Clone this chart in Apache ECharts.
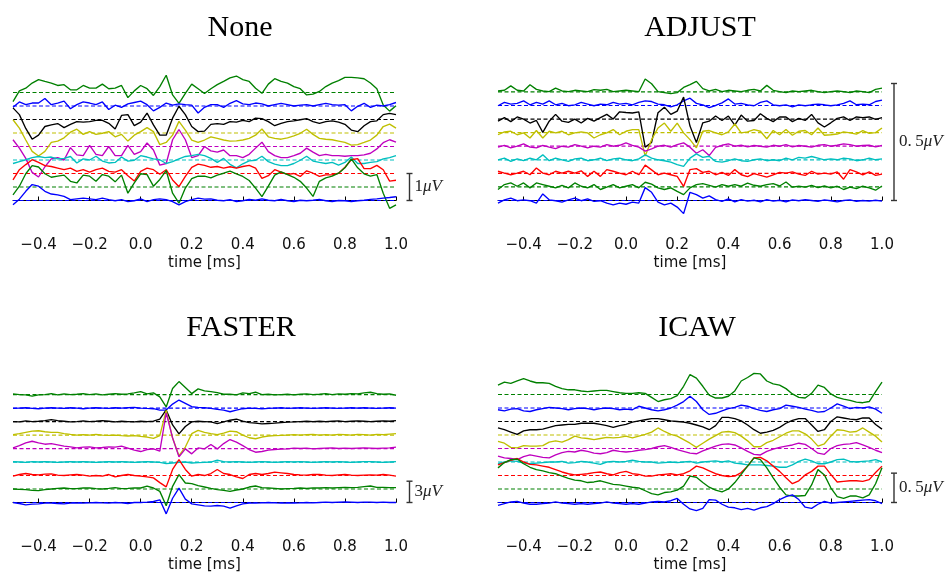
<!DOCTYPE html>
<html><head><meta charset="utf-8">
<script src="https://cdn.jsdelivr.net/npm/echarts@6/dist/echarts.min.js"></script>
<style>html,body{margin:0;padding:0;background:#fff}#c{width:945px;height:575px}</style>
</head><body><div id="c"></div>
<script>
// sample times (ms)
const time = [-0.5,-0.475,-0.45,-0.425,-0.4,-0.375,-0.35,-0.325,-0.3,-0.275,-0.25,-0.225,-0.2,-0.175,-0.15,-0.125,-0.1,-0.075,-0.05,-0.025,0,0.025,0.05,0.075,0.1,0.125,0.15,0.175,0.2,0.225,0.25,0.275,0.3,0.325,0.35,0.375,0.4,0.425,0.45,0.475,0.5,0.525,0.55,0.575,0.6,0.625,0.65,0.675,0.7,0.725,0.75,0.775,0.8,0.825,0.85,0.875,0.9,0.925,0.95,0.975,1.0];
const tickValues = [-0.4,-0.2,0,0.2,0.4,0.6,0.8,1.0];
const channelColors = ['#008000','#0000ff','#000000','#bfbf00','#bf00bf','#00bfbf','#ff0000','#008000','#0000ff'];
const titles = ['None','ADJUST','FASTER','ICAW'];
const spacings = [0.5, 0.058, 1.9, 0.23];      // µV between channel baselines
const barValues = [1, 0.5, 3, 0.5];             // µV scale bars
const barLabels = ['1', '0.\u20095', '3', '0.\u20095'];

// ---- None (µV deviation from channel baseline)
const none1 = [-0.34,0.06,0.16,0.35,0.48,0.41,0.35,0.26,0.29,0.1,0.1,0.26,0.16,0.16,0.31,0.14,0.16,0.26,-0.19,0.06,0.26,0.14,-0.11,0.22,0.64,-0.09,-0.4,-0.03,0.31,0.14,-0.04,0.14,0.29,0.41,0.54,0.61,0.48,0.41,0.16,-0.03,0.31,0.51,0.41,0.35,0.22,0.14,-0.09,-0.06,0.04,0.22,0.35,0.44,0.56,0.56,0.54,0.51,0.35,0.14,-0.46,-0.69,-0.49];
const none2 = [-0.05,0.15,0.05,0.11,0.11,0.28,0.05,0.11,0.18,-0.1,0.05,0.15,0.11,0.05,0.15,-0.13,0.03,-0.05,0.08,0.13,0.18,0.05,-0.18,-0.05,0.11,0.03,0.08,0.05,0.03,-0.26,-0.05,0.05,0.05,-0.05,0.1,0.2,0.08,0.05,0.11,0.08,0,0.05,0.1,0.05,0,0.03,0.05,0,0.05,0.1,0.05,0.03,0.05,-0.18,-0.01,0.1,-0.05,0.03,0,0.05,0.13];
const none3 = [0.43,0.18,-0.33,-0.73,-0.58,-0.26,-0.2,-0.15,-0.3,-0.18,-0.08,-0.1,-0.08,-0.03,-0.03,-0.14,-0.35,0.15,0.18,-0.23,-0.1,0.24,-0.2,-0.58,-0.58,0.05,0.49,0.18,-0.26,-0.45,-0.43,-0.18,-0.15,-0.18,-0.08,-0.1,-0.03,-0.08,0.05,0.03,-0.08,-0.23,-0.14,-0.08,-0.05,-0.01,0.03,-0.08,-0.14,-0.08,-0.05,-0.1,-0.18,-0.39,-0.45,-0.23,-0.08,-0.05,0.18,0.23,0.18];
const none4 = [0.49,0.18,-0.26,-0.68,-0.85,-0.68,-0.35,-0.3,-0.18,0.03,0.14,-0.05,0.05,-0.05,-0.01,0.05,-0.14,-0.05,-0.3,-0.08,0.05,0.2,0.05,-0.43,-0.35,-0.08,0.43,0.11,-0.26,-0.35,-0.26,-0.14,-0.2,-0.26,-0.3,-0.29,-0.26,-0.2,-0.08,0.15,-0.14,-0.2,-0.23,-0.18,-0.11,-0.01,0.14,-0.05,-0.2,-0.23,-0.25,-0.3,-0.35,-0.45,-0.43,-0.35,-0.26,-0.08,0.24,0.33,0.18];
const none5 = [0.25,-0.06,-0.44,-0.96,-1.13,-0.75,-0.46,-0.41,-0.5,-0.04,-0.31,-0.34,0.04,-0.29,-0.34,0,-0.34,-0.34,0.04,-0.29,-0.19,0.13,-0.13,-0.69,-0.63,0.25,0.63,0.25,-0.41,-0.34,0,-0.16,-0.21,-0.13,-0.34,-0.34,-0.41,-0.29,-0.06,0.16,-0.19,-0.34,-0.41,-0.41,-0.34,-0.25,-0.06,-0.21,-0.34,-0.29,-0.34,-0.34,-0.36,-0.34,-0.34,-0.31,-0.25,-0.09,0.14,0.25,0.16];
const none6 = [-0.13,-0.06,0.01,0.09,0.13,0.09,0.11,0.04,0.06,0.13,-0.11,0.04,0,0.14,-0.04,-0.11,-0.09,0.11,-0.04,-0.01,0.16,0.11,0.04,0.01,-0.13,-0.06,0.04,0.13,0.16,0.21,0.16,0.06,-0.09,0.06,-0.16,-0.29,-0.14,-0.03,-0.01,0.14,-0.06,-0.15,-0.21,-0.21,-0.13,-0.01,0.14,-0.04,-0.09,-0.13,-0.09,-0.19,-0.09,0.11,-0.13,-0.13,-0.09,-0.06,0.04,0.09,0.16];
const none7 = [-0.24,0.14,0.33,0.51,0.41,0.29,0.26,0.2,0.14,0.2,0.08,0.14,0.05,0.14,0.2,0.08,0.05,0.14,-0.08,-0.28,0.08,0.2,0.14,-0.03,0.14,-0.24,-0.49,-0.11,0.23,0.35,0.3,0.23,0.26,0.2,0.25,0.2,0.26,0.3,0.2,-0.18,-0.08,0.14,0.05,-0.03,0,-0.11,0.1,0.01,-0.11,-0.05,-0.05,0.01,0.23,0.51,0.55,0.18,0.18,0.3,0.14,-0.28,-0.25];
const none8 = [-0.29,0.03,0.49,0.79,0.74,0.49,0.36,0.4,0.44,0.21,0.15,0.44,0.4,0.21,0.46,0.4,0.19,0.44,-0.23,0.15,0.49,0.46,0.03,0.28,0.61,-0.23,-0.6,-0.04,0.31,0.4,0.4,0.34,0.44,0.51,0.59,0.49,0.39,0.24,-0.04,-0.36,0.03,0.44,0.56,0.46,0.36,0.21,-0.04,-0.35,0.21,0.34,0.4,0.51,0.71,1.04,0.71,0.49,0.4,0.46,-0.23,-0.79,-0.66];
const none9 = [-0.16,0.05,0.34,0.59,0.53,0.34,0.24,0.21,0.15,0.03,0.06,0.09,0.06,0.03,0.09,0.03,-0.01,0.03,-0.04,-0.01,0.06,-0.04,0.03,0.06,0.03,-0.04,-0.16,-0.04,0.03,0.09,0.05,0.06,0.01,-0.01,0.03,-0.04,-0.01,0.04,0.01,0.06,0.01,-0.01,0.04,-0.01,-0.04,0.01,-0.01,0.01,0.04,-0.01,-0.04,0,-0.01,-0.04,-0.01,0.01,0.04,0.06,0.09,0.11,0.14];

// ---- ADJUST
const adj1 = [0.004,0.007,0.026,0.007,0.004,0.031,0.011,0.004,0.001,0.016,0.004,0.001,0.007,0.004,0.001,0.01,0.007,0.011,0.001,0.004,0.007,0.004,0.001,0.055,0.035,0.001,-0.003,-0.007,-0.003,0.019,0.031,0.045,0.014,0.004,0.011,0.001,0.007,0.004,0.001,0.007,0.011,0.004,0.028,0.007,0.001,-0.003,0.004,0.001,0.004,0.007,0.001,-0.003,0.001,0.004,0.001,-0.003,0.004,0.001,-0.003,0.011,0.016];
const adj2 = [-0.001,0.013,0.006,0.009,0.02,0.003,0.013,0.006,0.02,0.003,0.009,-0.001,0.003,0.013,0.006,-0.001,0.006,0.003,0.013,0.006,0.009,0.003,0.013,0.02,0.017,0.006,0.003,-0.006,0.003,0.02,0.031,0.009,0.003,-0.009,0,0.011,0.028,0.006,0.009,0.003,-0.001,0.013,0.02,0.003,-0.001,0.003,-0.006,0.003,-0.001,0.003,0.006,0.003,-0.001,0.003,0.009,0.02,0.003,0.006,0.003,0.017,0.023];
const adj3 = [-0.009,0.006,-0.011,0.009,0,-0.017,-0.006,-0.057,-0.009,0.02,-0.009,-0.014,0,-0.017,0.003,-0.009,0.006,0.02,0,0.031,0.028,0.026,0.031,-0.12,-0.1,0.027,0.051,0.02,0.034,0.094,-0.03,-0.1,-0.016,-0.009,0.013,-0.006,0.013,-0.026,0.017,-0.009,-0.006,0.023,0.003,-0.011,0.009,0.009,-0.011,0.003,-0.006,0.02,-0.016,-0.034,-0.016,0.003,0.009,-0.006,0.009,0.006,0.009,-0.001,0.006];
const adj4 = [-0.009,0.003,0.006,-0.009,-0.001,-0.023,0.009,-0.023,0.006,-0.001,0.006,-0.009,-0.001,0.003,-0.001,-0.023,-0.009,-0.001,0.013,-0.009,0.006,0.013,0.013,-0.1,-0.03,0.02,0.041,0.006,0.041,-0.001,-0.03,-0.065,0.006,0.009,-0.001,-0.009,0.003,0.037,-0.001,0.003,0.013,0.006,-0.026,0.009,-0.009,0.013,-0.011,0.006,0.009,-0.009,0.02,-0.011,-0.009,-0.006,0.003,-0.001,-0.006,0.009,-0.003,0,0.02];
const adj5 = [-0.004,0.004,-0.007,0,0.01,-0.004,-0.007,0.004,-0.004,-0.01,0,-0.004,0.007,0,-0.007,0,-0.004,0.007,0,0.004,0.014,0.004,-0.004,-0.021,-0.011,0,0.004,-0.004,0.007,0.014,-0.004,-0.03,-0.015,-0.04,-0.005,0.004,0.01,0,0.004,-0.003,0.003,0,-0.004,0.004,0,0.007,-0.003,0.003,0,-0.004,0.004,0.007,0,0.004,0.01,0.007,0,0.003,0.004,-0.003,0.003];
const adj6 = [0,0.007,-0.007,0.004,-0.004,0.007,0,0.021,-0.004,0.007,0,-0.007,0.004,0.007,-0.004,0,0.007,-0.004,0.004,0.007,0,-0.004,0.004,0.021,0.007,0,-0.004,-0.01,-0.021,-0.028,0.007,0.025,0.01,0.015,-0.007,-0.01,-0.004,0.004,-0.004,-0.007,0,0.004,-0.004,0,-0.004,0.007,0,0.01,0.007,0.014,0.007,0,0.004,0,0.007,0.004,-0.004,0,0.007,0,0.004];
const adj7 = [0.009,0.001,-0.006,0.001,0.009,-0.006,0.023,0.001,-0.006,0.009,0.001,0.009,0.001,0.011,-0.013,0.009,-0.013,0.016,0.009,0.001,-0.006,0.009,-0.006,0.035,0.015,-0.006,0.001,-0.006,-0.013,-0.056,0.016,0.02,0.004,0.009,-0.006,0.004,-0.009,0.016,-0.006,-0.014,-0.001,-0.009,-0.016,-0.006,0.004,0.001,0.006,-0.003,-0.009,0.009,-0.003,0.001,-0.003,0.006,-0.025,0.016,0.006,-0.006,0.006,-0.009,-0.003];
const adj8 = [-0.011,0.01,0.017,0.003,0.017,-0.004,0.017,0.01,0.003,-0.004,0.007,-0.004,0.017,0.003,-0.004,0.01,-0.011,-0.001,0.01,-0.004,0.003,0.01,-0.004,0.02,0.012,-0.004,-0.011,-0.004,-0.019,-0.033,-0.004,0.01,0.014,0.007,-0.001,0.01,0.003,0.01,0.003,0.016,0.007,0.003,0.01,0.014,0.004,0.021,-0.001,0.003,-0.001,0.007,-0.003,0.004,-0.004,0.003,-0.011,-0.001,-0.007,0.003,-0.004,-0.014,0.004];
const adj9 = [-0.011,0.003,0.01,-0.001,0.003,-0.001,-0.011,0.028,0.003,-0.001,-0.007,0.003,0.01,-0.001,0.007,-0.004,-0.001,-0.011,-0.019,-0.011,-0.016,-0.007,-0.011,0.055,0.035,-0.007,-0.019,-0.011,-0.028,-0.056,0.035,0.025,0.01,0.02,0.004,-0.004,0.007,-0.006,0.004,-0.003,0.001,-0.006,0.004,-0.003,0.001,-0.006,0.003,-0.001,0.004,0,-0.004,0.003,-0.001,-0.006,0,0.003,-0.004,0,-0.003,0.001,-0.003];

// ---- FASTER
const fast1 = [0.09,0,-0.05,-0.23,-0.05,0,0.14,-0.05,0.09,0,0.05,0.14,0,0.09,-0.05,0.05,0.14,0.05,0.09,0.23,0.42,0.09,0.23,-0.33,-1.74,0.85,1.83,0.99,0.14,0.8,0.52,0.42,0.28,0.05,0.05,-0.05,0.23,0.14,0.33,0,0.05,-0.05,0,0.05,-0.05,0.05,0.09,0,0.05,0.14,0,0.09,0.05,0.14,0.09,0.23,0.33,0.14,0.05,0.09,-0.09];
const fast2 = [-0.05,0,0.05,-0.05,-0.09,0,0.05,0,-0.05,0.05,0,-0.09,0,0.05,0,-0.05,0.05,0,0.05,0.09,0,-0.05,-0.09,-0.28,-0.28,0.56,1.13,0.66,0.19,0.09,0.05,-0.05,-0.19,-0.28,-0.52,-0.28,-0.09,0,-0.05,-0.09,-0.05,0,0.05,-0.05,0,0.05,0,-0.05,0,0.05,0,-0.05,0,0.05,0,0.05,0,-0.05,0,0.05,0];
const fast3 = [0,-0.05,0.09,0,0.05,0.14,0.28,0.14,0.05,-0.05,0,0.09,0,0.05,0.14,0.05,-0.05,0.05,0,-0.05,0.05,0,0.05,0.33,1.64,-0.47,-1.74,-0.7,-0.05,0.05,0,-0.05,-0.28,-0.05,0.19,0.33,0.05,-0.14,-0.23,-0.33,-0.28,-0.23,-0.14,-0.09,-0.05,0,0.05,0,0.05,0,0.05,0.09,0,0.05,0.09,0.05,0,0.05,0.09,0.05,0.14];
const fast4 = [0.05,0.19,0.38,0.56,0.61,0.47,0.38,0.38,0.19,0.09,0,0.05,0,0.09,0,-0.05,0,-0.09,-0.14,-0.09,-0.19,-0.28,-0.47,-0.09,3.47,-0.42,-2.91,-1.69,0.19,0.66,0.38,0.19,0.05,0.28,0.56,0.47,0,-0.38,-0.52,-0.28,-0.14,-0.09,-0.05,0,0.05,0,0.05,0.09,0,0.05,0,0.09,0.05,0,0.09,0.05,0,0.09,0.05,0.14,0.19];
const fast5 = [0.09,0.42,0.8,1.03,0.8,0.61,0.7,0.52,0.33,0.23,0.09,0.19,0.23,0.09,0.14,0.23,0.19,0.33,0.05,-0.23,-0.42,-0.14,-0.05,-0.38,5.02,1.5,-1.17,-0.05,-0.75,0.09,-0.05,0.56,-0.05,0.7,1.27,0.89,0.42,-0.14,-0.52,-0.42,-0.23,-0.14,-0.09,-0.05,0.05,0,0.05,-0.05,0,0.05,0.09,0,0.05,0,0.05,0.09,0.05,0,0.05,0.09,0.19];
const fast6 = [0.05,0,-0.05,0.05,0,0.05,0,-0.05,0,0.05,0,0.05,0,-0.05,0,0.05,0,0.05,0,-0.05,0,0.05,0,-0.05,-0.23,-0.14,-0.05,0,-0.14,-0.09,-0.05,0,0.28,0.05,0,0.05,0,-0.05,0,0.05,0,-0.05,0,0.05,0,0.05,0,-0.05,0,0.05,0,0.05,0,-0.05,0,0.05,0.05,0,-0.05,0,0.05];
const fast7 = [-0.09,0.14,0.28,0.14,0.09,0.19,0.23,0.05,0,0.09,0.14,0.05,-0.09,0,-0.09,0.14,-0.19,0,0.14,0,-0.09,-0.19,-0.33,-1.0,-1.6,0.85,2.25,0.85,-0.09,0.14,0,0.28,0.85,0.28,0.14,-0.19,-0.42,0.14,0.28,0.14,0.28,0.47,0.38,0.28,0.14,0.09,0.05,0.14,0.14,0.05,0,0.09,0.14,0.05,0,0.05,0.09,0.05,0.14,0.05,-0.09];
const fast8 = [0,-0.05,-0.09,-0.19,-0.23,-0.09,0,0.09,0.14,0.05,0.05,0.14,0.14,0.05,0,0.09,0.19,0.05,0.09,0.14,0.14,0.42,0.14,-0.33,-2.35,0.38,2.02,0.85,0.75,0.47,0.28,0.09,-0.09,-0.19,-0.33,-0.14,0,0.28,0.42,0.19,0.14,0.09,0,0.05,0.09,0.14,0.09,0.14,0.14,0.19,0.14,0.19,0.23,0.19,0.23,0.33,0.42,0.23,0.23,0.19,0.19];
const fast9 = [0,-0.14,-0.33,-0.23,-0.19,-0.09,-0.09,-0.14,-0.19,-0.09,-0.05,-0.09,-0.05,0,-0.05,-0.09,0,-0.05,-0.14,0,0,0.05,0.14,0.38,-1.6,0.6,2.02,0.47,-0.19,-0.33,-0.47,-0.52,-0.42,-0.52,-0.8,-0.47,-0.19,-0.09,-0.09,-0.05,0,-0.05,-0.09,-0.05,-0.09,-0.05,0,-0.05,0,0.05,0,0.05,0.09,0.05,0,0.05,0.05,0,0.05,0,0];

// ---- ICAW
const icaw1 = [0.16,0.21,0.19,0.23,0.27,0.23,0.2,0.2,0.19,0.14,0.1,0.08,0.08,0.06,0.05,0.06,0.07,0.07,0.05,0.03,0.02,0.02,0.03,0.02,-0.05,-0.12,-0.09,-0.07,-0.02,0.14,0.34,0.28,0.14,-0.01,-0.06,-0.06,-0.03,0.06,0.23,0.29,0.36,0.35,0.23,0.18,0.16,0.1,0.01,-0.05,-0.06,0.02,0.16,0.12,0.01,-0.05,-0.08,-0.1,-0.13,-0.14,-0.12,0.05,0.21];
const icaw2 = [-0.03,-0.05,-0.02,-0.01,-0.05,-0.06,-0.03,-0.01,0.01,0,-0.01,-0.03,-0.01,0,-0.01,-0.03,-0.01,0,-0.01,-0.03,-0.02,-0.03,0.03,0,-0.03,-0.05,-0.03,0,0.05,0.11,0.2,0.11,-0.03,-0.11,-0.09,-0.05,-0.01,0.01,0.05,0.03,-0.01,-0.04,-0.06,-0.03,-0.01,0.05,0.03,0.01,-0.02,-0.04,-0.07,-0.06,0,0.07,0.03,-0.01,0.01,0,0.02,-0.02,-0.09];
const icaw3 = [-0.11,-0.14,-0.18,-0.22,-0.16,-0.14,-0.14,-0.13,-0.1,-0.07,-0.06,-0.05,-0.05,-0.03,-0.03,-0.03,-0.05,-0.07,-0.1,-0.07,-0.05,-0.01,0.01,0.03,0.05,0.05,0.03,0.01,0,-0.01,-0.03,-0.06,-0.09,-0.14,-0.07,0.07,0.07,0.05,0.01,-0.06,-0.14,-0.2,-0.18,-0.15,-0.1,-0.03,0.02,0.05,0.05,-0.06,-0.17,-0.14,0,0.08,0.06,0.04,0.03,0.06,0.06,-0.05,-0.13];
const icaw4 = [-0.11,-0.14,-0.21,-0.22,-0.18,-0.19,-0.19,-0.18,-0.12,-0.1,-0.12,-0.08,-0.02,-0.05,-0.06,-0.08,-0.06,-0.04,-0.05,-0.04,-0.02,-0.05,-0.02,0.01,0.05,0.12,0.06,0.01,-0.02,-0.08,-0.14,-0.21,-0.14,-0.07,-0.01,0.05,0.06,0.04,-0.02,-0.1,-0.2,-0.2,-0.13,-0.09,-0.03,0.03,0.07,0.07,0.02,-0.07,-0.19,-0.15,-0.02,0.09,0.08,0.05,0.06,0.12,0.05,-0.02,-0.12];
const icaw5 = [-0.13,-0.16,-0.17,-0.19,-0.14,-0.11,-0.13,-0.15,-0.16,-0.11,-0.07,-0.05,-0.06,-0.03,-0.05,-0.08,-0.09,-0.07,-0.03,-0.05,-0.06,-0.05,-0.03,-0.02,0,0.03,0.05,0.02,-0.02,-0.05,-0.08,-0.09,-0.04,0,0.04,0.07,0.08,0.06,0.01,-0.05,-0.1,-0.11,-0.05,-0.01,0.02,0.04,0.06,0.09,0.07,0,-0.08,-0.1,0,0.05,0.07,0.08,0.1,0.06,0.02,-0.03,-0.07];
const icaw6 = [-0.03,0,0.02,0.01,-0.02,-0.03,-0.02,-0.01,0,0,0.01,-0.02,-0.01,0.01,0,-0.02,-0.04,0,0.01,0,0.01,0.03,0.01,0,0,-0.02,-0.01,0,-0.01,0,0.01,-0.02,0,0.01,0.02,0,0.02,-0.02,-0.03,-0.05,-0.05,-0.05,-0.06,-0.07,-0.09,-0.09,-0.05,0.01,0.05,0.02,-0.03,-0.03,0,0.04,0.05,0.01,0,0.01,0.02,0.04,0];
const icaw7 = [0.18,0.22,0.26,0.29,0.23,0.19,0.18,0.16,0.14,0.1,0.06,0.03,0.01,0.02,0.03,0.05,0.06,0.03,0.01,0.05,0.07,0.03,0.02,-0.01,-0.01,0.01,0.02,0.03,0.01,0.03,0.08,0.16,0.13,0.08,0.03,0,-0.02,-0.01,0.05,0.16,0.3,0.31,0.25,0.16,0.07,-0.04,-0.14,-0.09,0.01,0.07,0.16,0.16,0.02,-0.11,-0.1,-0.09,-0.09,-0.1,-0.07,0.05,0.16];
const icaw8 = [0.36,0.45,0.5,0.51,0.43,0.37,0.33,0.31,0.28,0.26,0.22,0.18,0.15,0.14,0.11,0.12,0.14,0.11,0.08,0.07,0.05,0.03,0.02,-0.03,-0.08,-0.1,-0.06,-0.05,-0.02,0.05,0.22,0.2,0.11,0.03,-0.02,-0.05,0,0.11,0.25,0.39,0.53,0.5,0.36,0.19,0.03,-0.1,-0.12,-0.12,-0.11,0.07,0.33,0.24,0.02,-0.13,-0.16,-0.12,-0.12,-0.15,-0.1,0.09,0.36];
const icaw9 = [-0.05,-0.02,0.01,0.02,-0.01,-0.03,-0.03,-0.02,-0.01,0.01,-0.01,-0.02,-0.03,-0.02,-0.03,-0.02,-0.01,0.01,-0.01,-0.02,-0.03,-0.02,-0.03,-0.01,0.01,0.02,0.01,0.03,0.07,-0.03,-0.11,-0.14,-0.1,0.05,0.04,-0.03,-0.08,-0.09,-0.12,-0.1,-0.13,-0.09,-0.07,-0.02,0.05,0.1,0.13,0.05,-0.08,-0.1,-0.03,0.02,-0.01,0,0.01,0.02,0.03,0.04,0.05,0.03,-0.02];

const traceSets = [
  [none1,none2,none3,none4,none5,none6,none7,none8,none9],
  [adj1,adj2,adj3,adj4,adj5,adj6,adj7,adj8,adj9],
  [fast1,fast2,fast3,fast4,fast5,fast6,fast7,fast8,fast9],
  [icaw1,icaw2,icaw3,icaw4,icaw5,icaw6,icaw7,icaw8,icaw9]
];

// ---- layout (pixels)
const layout = [
  {left:13,  top:70,  width:383, height:164, ppu:27,   titleX:235, titleY:8,   barDx:13.5},
  {left:498, top:70,  width:384, height:164, ppu:234,  titleX:695, titleY:8,   barDx:12},
  {left:13,  top:372, width:383, height:164, ppu:7.1,  titleX:236, titleY:308, barDx:13.5},
  {left:498, top:372, width:384, height:164, ppu:58.7, titleX:692, titleY:308, barDx:12}
];
const bottomGap = 33.5; // px between lowest baseline and the x axis

const fmt = v => (v < 0 ? '\u2212' : '') + Math.abs(v).toFixed(1);

const grids = [], xAxes = [], yAxes = [], series = [], titleOpts = [];
layout.forEach((L, i) => {
  grids.push({left:L.left, top:L.top, width:L.width, height:L.height, containLabel:false});
  xAxes.push({
    type:'value', gridIndex:i, min:-0.5, max:1.0,
    name:'time [ms]', nameLocation:'middle', nameGap:22,
    nameTextStyle:{fontFamily:'DejaVu Sans', fontSize:15, color:'#111'},
    axisLine:{show:true, lineStyle:{color:'#000', width:1}},
    axisTick:{show:true, inside:true, length:4, customValues:tickValues, lineStyle:{color:'#000'}},
    axisLabel:{show:true, customValues:tickValues, formatter:fmt, margin:4,
      fontFamily:'DejaVu Sans', fontSize:15, color:'#111'},
    splitLine:{show:false}
  });
  const yMin = -bottomGap / L.ppu;
  yAxes.push({type:'value', gridIndex:i, show:false, min:yMin, max:yMin + L.height / L.ppu,
    splitLine:{show:false}});
  titleOpts.push({text:titles[i], left:L.titleX, top:L.titleY, textAlign:'center',
    textStyle:{fontFamily:'Liberation Serif', fontSize:30, fontWeight:'normal', color:'#000'}});

  const sp = spacings[i];
  traceSets[i].forEach((tr, k) => {
    const off = (8 - k) * sp;
    series.push({
      type:'line', xAxisIndex:i, yAxisIndex:i, silent:true, showSymbol:false, animation:false, z:1,
      data:[[-0.5, off],[1.0, off]],
      lineStyle:{color:channelColors[k], width:1.2, type:[4,2.5]}
    });
  });
  traceSets[i].forEach((tr, k) => {
    const off = (8 - k) * sp;
    series.push({
      type:'line', xAxisIndex:i, yAxisIndex:i, silent:true, showSymbol:false, animation:false, z:2,
      data: time.map((t, j) => [t, off + tr[j]]),
      lineStyle:{color:channelColors[k], width:1.35}
    });
  });
  // scale bar
  series.push({
    type:'custom', xAxisIndex:i, yAxisIndex:i, silent:true, animation:false, z:3,
    data:[[1.0, 0, barValues[i]]],
    renderItem:(params, api) => {
      const p0 = api.coord([api.value(0), api.value(1)]);
      const p1 = api.coord([api.value(0), api.value(2)]);
      const x = p0[0] + L.barDx;
      const st = {stroke:'#333', lineWidth:1.4};
      return {type:'group', children:[
        {type:'line', shape:{x1:x, y1:p0[1], x2:x, y2:p1[1]}, style:st},
        {type:'line', shape:{x1:x-3, y1:p0[1], x2:x+3, y2:p0[1]}, style:st},
        {type:'line', shape:{x1:x-3, y1:p1[1], x2:x+3, y2:p1[1]}, style:st},
        {type:'text', style:{
          text:'{n|' + barLabels[i] + '}{u|\u03bcV}',
          x:x + 5, y:(p0[1] + p1[1]) / 2, verticalAlign:'middle', align:'left',
          rich:{
            n:{fontFamily:'Liberation Serif', fontSize:17, fill:'#222'},
            u:{fontFamily:'Liberation Serif', fontSize:17, fontStyle:'italic', fill:'#222'}
          }
        }}
      ]};
    }
  });
});

const chart = echarts.init(document.getElementById('c'), null, {renderer:'canvas'});
chart.setOption({
  animation:false,
  backgroundColor:'#fff',
  title:titleOpts,
  grid:grids, xAxis:xAxes, yAxis:yAxes, series:series
});
</script>
</body></html>
